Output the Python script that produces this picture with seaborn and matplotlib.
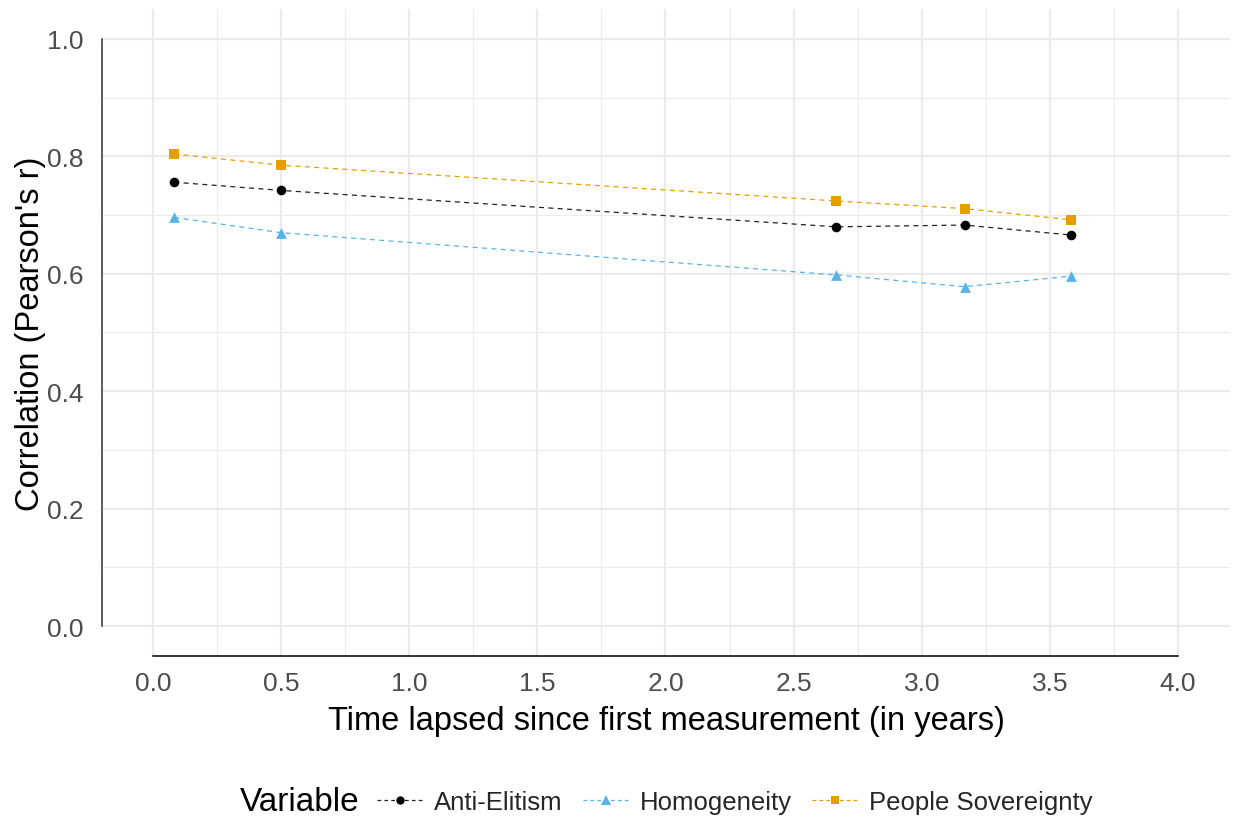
import matplotlib
matplotlib.use("Agg")
import matplotlib.pyplot as plt
from matplotlib.lines import Line2D
from matplotlib.ticker import MultipleLocator
import seaborn as sns
import pandas as pd

# ---- data ----
years = [0.083, 0.5, 2.667, 3.167, 3.583]
anti_elitism = [0.756, 0.742, 0.680, 0.683, 0.666]
homogeneity = [0.696, 0.670, 0.598, 0.578, 0.596]
people_sovereignty = [0.804, 0.785, 0.724, 0.711, 0.692]
variables = ["Anti-Elitism", "Homogeneity", "People Sovereignty"]
colors = ["#000000", "#56B4E9", "#E69F00"]
markers = ["o", "^", "s"]
x_ticks = [0.0, 0.5, 1.0, 1.5, 2.0, 2.5, 3.0, 3.5, 4.0]
y_ticks = [0.0, 0.2, 0.4, 0.6, 0.8, 1.0]

df = pd.DataFrame({
    "Time": years * 3,
    "r": anti_elitism + homogeneity + people_sovereignty,
    "Variable": [v for v in variables for _ in years],
})

sns.set_theme(style="white")
plt.rcParams["font.family"] = ["Liberation Sans", "DejaVu Sans"]

W, H = 1235, 820
fig = plt.figure(figsize=(W / 100, H / 100), dpi=100)
ax = fig.add_axes([102 / W, 1 - 657 / H, (1230 - 102) / W, (657 - 10) / H])

palette = dict(zip(variables, colors))
mk = dict(zip(variables, markers))
line_colors = {"Anti-Elitism": "#222222", "Homogeneity": "#56B4E9", "People Sovereignty": "#E69F00"}

for v in variables:
    sub = df[df["Variable"] == v]
    sns.lineplot(data=sub, x="Time", y="r", ax=ax, color=line_colors[v],
                 linewidth=0.9, linestyle=(0, (4, 3.5)), legend=False)
    sns.scatterplot(data=sub, x="Time", y="r", ax=ax, color=palette[v],
                    marker=mk[v], s=48 if mk[v] != "^" else 60,
                    linewidth=0, legend=False, zorder=5)

ax.set_xlim(-0.199, 4.203)
ax.set_ylim(-0.051, 1.051)
ax.set_xticks(x_ticks)
ax.set_yticks(y_ticks)
ax.xaxis.set_minor_locator(MultipleLocator(0.25))
ax.yaxis.set_minor_locator(MultipleLocator(0.1))
ax.set_xticklabels([f"{t:.1f}" for t in x_ticks])
ax.set_yticklabels([f"{t:.1f}" for t in y_ticks])
ax.grid(True, which="major", color="#EBEBEB", linewidth=1.6)
ax.grid(True, which="minor", color="#EBEBEB", linewidth=0.8)
ax.set_axisbelow(True)

ax.tick_params(axis="both", which="both", length=0, labelsize=19, labelcolor="#4D4D4D")
ax.tick_params(axis="x", pad=11)
ax.tick_params(axis="y", pad=13)

for s in ["top", "right"]:
    ax.spines[s].set_visible(False)
ax.spines["left"].set_bounds(0, 1)
ax.spines["left"].set_color("#333333")
ax.spines["left"].set_linewidth(1.1)
ax.spines["bottom"].set_bounds(0, 4)
ax.spines["bottom"].set_color("#000000")
ax.spines["bottom"].set_linewidth(1.1)

ax.set_xlabel("Time lapsed since first measurement (in years)", fontsize=23.5, color="black", labelpad=7)
ax.set_ylabel("Correlation (Pearson's r)", fontsize=23.5, color="black", labelpad=1)

handles = [
    Line2D([0], [0], color=line_colors[v], linestyle=(0, (3, 2.5)), linewidth=0.9,
           marker=mk[v], markerfacecolor=palette[v], markeredgewidth=0,
           markersize=6 if mk[v] != "^" else 7)
    for v in variables
]
fig.text(240 / W, 1 - 803 / H, "Variable", fontsize=24, va="center", ha="left", color="black")
fig.legend(handles, variables, loc="center", bbox_to_anchor=(735 / W, 1 - 803 / H),
           ncol=3, frameon=False, fontsize=18.5, handlelength=1.75, handletextpad=0.47,
           columnspacing=0.78)

fig.savefig("out.png", dpi=100)
